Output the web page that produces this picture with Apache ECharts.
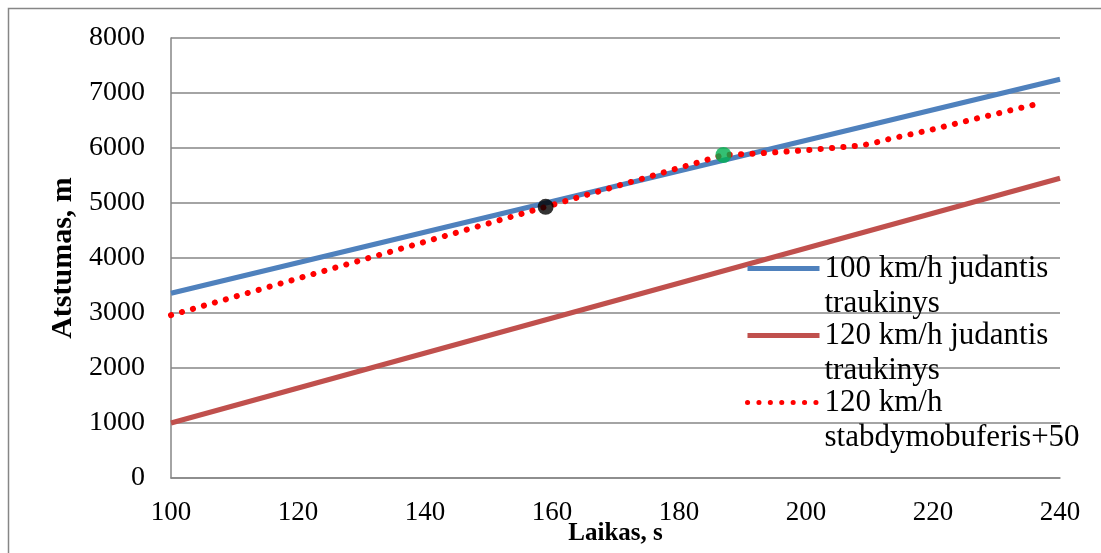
<!DOCTYPE html>
<html>
<head>
<meta charset="utf-8">
<script src="https://cdn.jsdelivr.net/npm/echarts@6/dist/echarts.min.js"></script>
<style>
  html, body { margin: 0; padding: 0; background: #fff; }
  #chart { width: 1101px; height: 553px; }
</style>
</head>
<body>
<div id="chart"></div>
<script>
// series names (legend text wraps onto two lines)
const seriesNames = [
  "100 km/h judantis\ntraukinys",
  "120 km/h judantis\ntraukinys",
  "120 km/h\nstabdymobuferis+50"
];

// [time s, distance m]
const train100 = [[100, 3360], [240, 7250]];
const train120 = [[100, 1000], [240, 5450]];
const buffer120 = [
  [100, 2960], [159, 4930], [187, 5873], [193, 5905], [200, 5960],
  [208, 6040], [210, 6070], [213, 6160], [220, 6340], [227, 6540], [236, 6790]
];
const blackPoint = [[159, 4930]];
const greenPoint = [[187, 5873]];

const xTicks = { min: 100, max: 240, interval: 20 };
const yTicks = { min: 0, max: 8000, interval: 1000 };

const font = "'Liberation Serif', 'Times New Roman', serif";
const gridGray = "#868686";

const chart = echarts.init(document.getElementById("chart"), null, { renderer: "canvas" });

const option = {
  backgroundColor: "#fff",
  animation: false,
  graphic: [
    {
      type: "rect",
      shape: { x: 8.5, y: 8.5, width: 1200, height: 700 },
      style: { fill: "none", stroke: gridGray, lineWidth: 1.5 },
      silent: true,
      z: -1
    }
  ],
  grid: { left: 171, right: 41, top: 38, bottom: 75, outerBoundsMode: "none" },
  legend: {
    data: seriesNames,
    orient: "vertical",
    left: 745,
    top: 216,
    padding: 0,
    itemWidth: 72,
    itemHeight: 5,
    itemGap: -38,
    itemStyle: { opacity: 0 },
    lineStyle: { width: 5 },
    // leading blank line keeps the icon level with the first text line
    formatter: (name) => "\n" + name,
    textStyle: {
      fontFamily: font,
      fontSize: 31,
      color: "#000",
      lineHeight: 35
    }
  },
  xAxis: {
    type: "value",
    min: xTicks.min,
    max: xTicks.max,
    interval: xTicks.interval,
    name: "Laikas, s",
    nameLocation: "middle",
    nameGap: 43,
    nameMoveOverlap: false,
    nameTextStyle: { fontFamily: font, fontSize: 25, fontWeight: "bold", color: "#000" },
    axisLine: { show: true, lineStyle: { color: gridGray, width: 1.5 } },
    axisTick: { show: false },
    axisLabel: { fontFamily: font, fontSize: 27, color: "#000", margin: 21 },
    splitLine: { show: false }
  },
  yAxis: {
    type: "value",
    min: yTicks.min,
    max: yTicks.max,
    interval: yTicks.interval,
    name: "Atstumas, m",
    nameLocation: "middle",
    nameGap: 92,
    nameTextStyle: { fontFamily: font, fontSize: 30, fontWeight: "bold", color: "#000" },
    axisLine: { show: true, lineStyle: { color: gridGray, width: 1.5 } },
    axisTick: { show: false },
    axisLabel: { fontFamily: font, fontSize: 28, color: "#000", margin: 26, formatter: (v) => String(v) },
    splitLine: { show: true, lineStyle: { color: gridGray, width: 1.5 } }
  },
  series: [
    {
      name: seriesNames[0],
      type: "line",
      data: train100,
      symbol: "none",
      lineStyle: { color: "#4F81BD", width: 5 },
      itemStyle: { color: "#4F81BD" },
      z: 2
    },
    {
      name: seriesNames[1],
      type: "line",
      data: train120,
      symbol: "none",
      lineStyle: { color: "#C0504D", width: 5 },
      itemStyle: { color: "#C0504D" },
      z: 2
    },
    {
      name: seriesNames[2],
      type: "line",
      data: buffer120,
      symbol: "none",
      lineStyle: { color: "#FF0000", width: 6, type: [0.1, 11.3], cap: "round" },
      itemStyle: { color: "#FF0000" },
      z: 3
    },
    {
      type: "scatter",
      data: blackPoint,
      symbolSize: 16,
      itemStyle: { color: "#000" },
      z: 4
    },
    {
      type: "scatter",
      data: greenPoint,
      symbolSize: 16,
      itemStyle: { color: "#00B050" },
      z: 4
    }
  ]
};

chart.setOption(option);
</script>
</body>
</html>
